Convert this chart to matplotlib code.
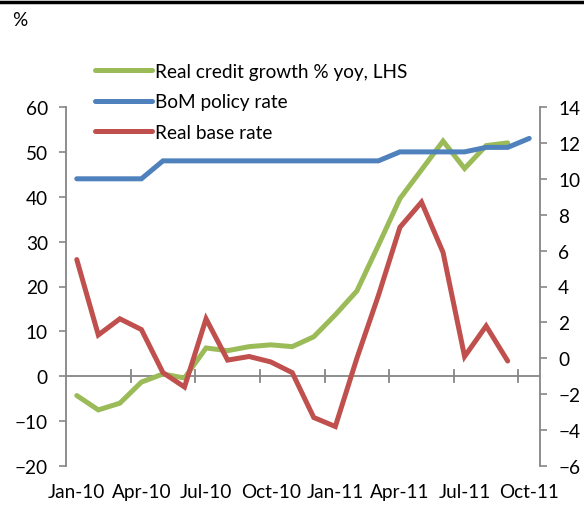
import numpy as np
import matplotlib.pyplot as plt

plt.rcParams['font.family'] = ['Lato', 'DejaVu Sans']

months = ['Jan-10', 'Feb-10', 'Mar-10', 'Apr-10', 'May-10', 'Jun-10', 'Jul-10', 'Aug-10',
          'Sep-10', 'Oct-10', 'Nov-10', 'Dec-10', 'Jan-11', 'Feb-11', 'Mar-11', 'Apr-11',
          'May-11', 'Jun-11', 'Jul-11', 'Aug-11', 'Sep-11', 'Oct-11']
credit = [-4.3, -7.5, -6.0, -1.3, 0.5, -0.4, 6.3, 5.7, 6.6, 7.0, 6.6, 8.8,
          13.7, 19.0, 29.2, 39.6, 46.0, 52.4, 46.3, 51.4, 52.0, np.nan]
policy = [10, 10, 10, 10, 11, 11, 11, 11, 11, 11, 11, 11,
          11, 11, 11, 11.5, 11.5, 11.5, 11.5, 11.75, 11.75, 12.25]
real_base = [5.5, 1.3, 2.2, 1.6, -0.8, -1.6, 2.2, -0.1, 0.1, -0.2, -0.8, -3.3,
             -3.8, 0.0, 3.5, 7.3, 8.7, 5.9, 0.1, 1.8, -0.15, np.nan]

green = '#9BBB59'
blue = '#4F81BD'
red = '#C0504D'
grey = '#868686'
fs = 13.7

x = np.arange(len(months))

fig = plt.figure(figsize=(5.84, 5.06), dpi=100)
ax = fig.add_axes([66 / 584, 1 - 467 / 506, 474 / 584, 359 / 506])
ax2 = ax.twinx()

l1, = ax.plot(x, credit, color=green, lw=3.6, solid_capstyle='round', solid_joinstyle='miter')
l2, = ax2.plot(x, policy, color=blue, lw=3.6, solid_capstyle='round', solid_joinstyle='miter')
l3, = ax2.plot(x, real_base, color=red, lw=3.6, solid_capstyle='round', solid_joinstyle='miter')

ax.set_xlim(-0.5, len(months) - 0.5)
ax.set_ylim(-20, 60)
ax.set_yticks(range(-20, 61, 10))
ax2.set_ylim(-6, 14)
ax2.set_yticks(range(-6, 15, 2))

for a in (ax, ax2):
    for s in ['top', 'bottom']:
        a.spines[s].set_visible(False)
    a.spines['left'].set_visible(a is ax)
    a.spines['right'].set_visible(a is ax2)
    a.tick_params(axis='y', colors=grey, labelcolor='black', labelsize=fs,
                  length=5, width=1.2, pad=8)
ax.spines['left'].set_color(grey)
ax.spines['left'].set_linewidth(1.3)
ax2.spines['right'].set_color(grey)
ax2.spines['right'].set_linewidth(1.3)

# category axis crossing at zero
ax.axhline(0, color=grey, lw=1.3, zorder=0.5)
ax.set_xticks([])
for t in np.arange(2.5, len(months), 3):
    ax.plot([t, t], [-1.3, 1.3], color=grey, lw=1.3, clip_on=False, zorder=0.5)
for i in range(0, len(months), 3):
    ax.text(i, -23.8, months[i], ha='center', va='top', fontsize=fs)

ax.legend([l1, l2, l3], ['Real credit growth % yoy, LHS', 'BoM policy rate', 'Real base rate'],
          loc='upper left', bbox_to_anchor=(0.045, 1.145), frameon=False, fontsize=fs,
          handlelength=3.0, handletextpad=0.15, labelspacing=0.72, borderaxespad=0)

fig.text(12 / 584, 1 - 20 / 506, '%', ha='left', va='center', fontsize=fs)
fig.add_artist(plt.Line2D([0, 1], [1 - 3 / 506, 1 - 3 / 506], color='black', lw=2.5))

fig.savefig('out.png', dpi=100)
